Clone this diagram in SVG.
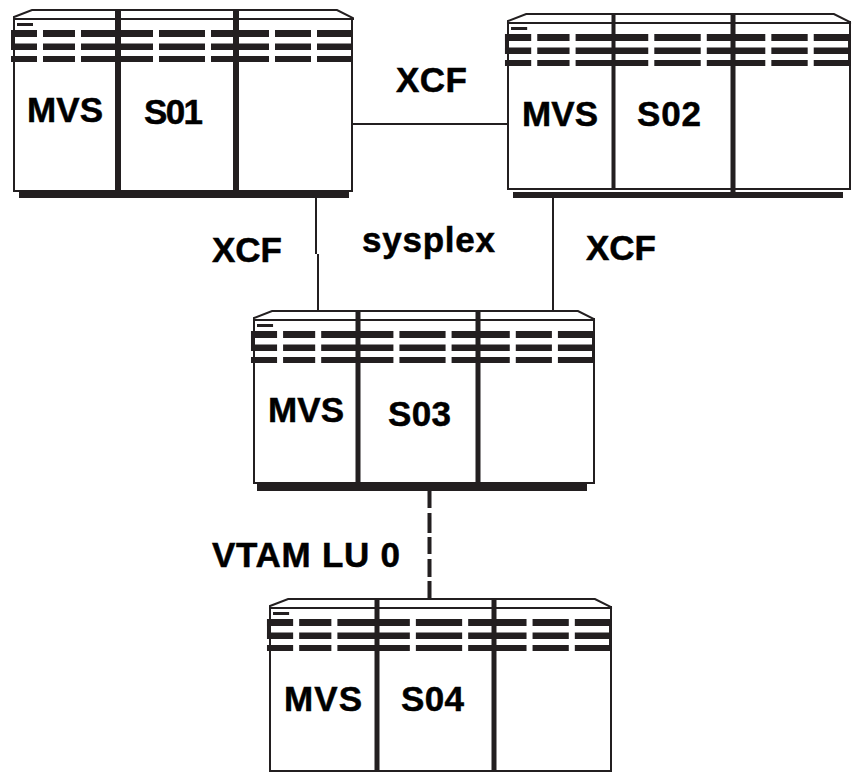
<svg xmlns="http://www.w3.org/2000/svg" width="852" height="772" viewBox="0 0 852 772">
<style>
.t{font-family:"Liberation Sans",Arial,sans-serif;font-weight:bold;font-size:35px;fill:#000;stroke:#000;stroke-width:.5}
.b{fill:#fff;stroke:#231f20;stroke-width:2}
.d{fill:#231f20}
.c{fill:none;stroke:#231f20;stroke-width:2}
.e{fill:none;stroke:#231f20;stroke-width:4}
</style>
<defs>
<g id="top">
<path class="b" d="M0 9V7L18 0H323L339 8V9Z"/>
<rect class="d" x="3" y="13" width="16" height="3"/>
<g class="d">
<path d="M-3 20H23V27H-3ZM29 20H61V27H29ZM67 20H139V27H67ZM145 20H191V27H145ZM197 20H255V27H197ZM261 20H297V27H261ZM303 20H339V27H303Z"/>
<path d="M-3 33.500H23V40H-3ZM29 33.500H61V40H29ZM67 33.500H139V40H67ZM145 33.500H191V40H145ZM197 33.500H255V40H197ZM261 33.500H297V40H261ZM303 33.500H339V40H303Z"/>
<path d="M-3 46H23V52H-3ZM29 46H61V52H29ZM67 46H139V52H67ZM145 46H191V52H145ZM197 46H255V52H197ZM261 46H297V52H261ZM303 46H339V52H303Z"/>
<rect x="-3" y="20" width="3" height="20"/>
<rect x="337" y="20" width="2" height="32"/>
</g>
</g>
</defs>
<g id="connectors">
<path class="c" d="M352 124H508M316 197V254M318 254V311M553 197V311"/>
<path class="e" d="M429.500 490V508M429.500 513V533M429.500 537V554M429.500 559V577M429.500 581V599"/>
</g>
<g id="s01">
<rect class="b" x="14" y="18" width="338" height="173"/>
<use href="#top" x="14" y="10"/>
<rect class="d" x="19" y="191" width="330" height="7"/>
<rect class="d" x="115" y="11" width="6" height="181"/>
<rect class="d" x="233" y="11" width="6" height="181"/>
<text class="t" x="27" y="122" textLength="76">MVS</text>
<text class="t" x="144" y="124" textLength="59">S01</text>
</g>
<g id="s02">
<rect class="b" x="508" y="22" width="342" height="167"/>
<use href="#top" transform="translate(508 14) scale(1.009 1)"/>
<rect class="d" x="513" y="192" width="330" height="6"/>
<rect class="d" x="611.500" y="15" width="4" height="175"/>
<rect class="d" x="730.500" y="15" width="5" height="179"/>
<text class="t" x="522" y="126" textLength="76">MVS</text>
<text class="t" x="637" y="126" textLength="64">S02</text>
</g>
<g id="s03">
<rect class="b" x="254" y="319" width="340" height="164"/>
<use href="#top" transform="translate(254 311) scale(1.003 1)"/>
<rect class="d" x="257" y="484" width="330" height="7"/>
<rect class="d" x="355.500" y="312" width="5" height="172"/>
<rect class="d" x="475.500" y="312" width="5" height="172"/>
<text class="t" x="268" y="422" textLength="76">MVS</text>
<text class="t" x="388" y="426" textLength="63">S03</text>
</g>
<g id="s04">
<rect class="b" x="270" y="607" width="341" height="164"/>
<use href="#top" transform="translate(270 599) scale(1.006 1)"/>
<rect class="d" x="374.500" y="600" width="5" height="171"/>
<rect class="d" x="491.500" y="600" width="5" height="171"/>
<text class="t" x="284" y="711" textLength="78">MVS</text>
<text class="t" x="401" y="711" textLength="63">S04</text>
</g>
<g id="labels">
<text class="t" x="396" y="92" textLength="71">XCF</text>
<text class="t" x="212" y="262" textLength="70">XCF</text>
<text class="t" x="586" y="260" textLength="70">XCF</text>
<text class="t" x="362" y="252" textLength="133">sysplex</text>
<text class="t" x="212" y="567" textLength="188">VTAM LU 0</text>
</g>
</svg>
